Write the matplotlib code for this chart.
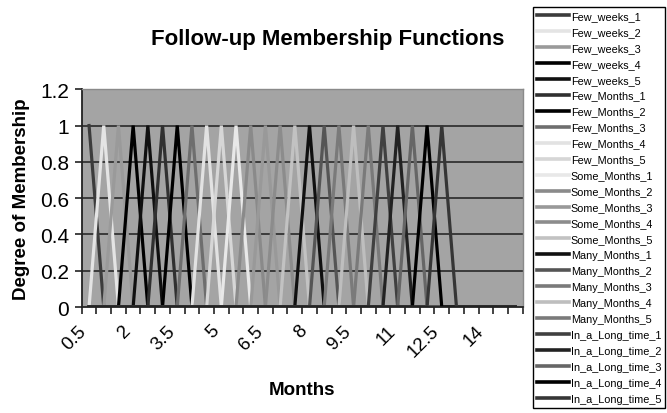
import matplotlib
matplotlib.use("Agg")
import matplotlib.pyplot as plt
import matplotlib.transforms as mtransforms

plt.rcParams['font.family'] = ['Liberation Sans', 'DejaVu Sans']

# month categories on the x axis
months = [0.5, 1.0, 1.5, 2.0, 2.5, 3.0, 3.5, 4.0, 4.5, 5.0,
          5.5, 6.0, 6.5, 7.0, 7.5, 8.0, 8.5, 9.0, 9.5, 10.0,
          10.5, 11.0, 11.5, 12.0, 12.5, 13.0, 13.5, 14.0, 14.5, 15.0]

series_names = ['Few_weeks_1', 'Few_weeks_2', 'Few_weeks_3', 'Few_weeks_4', 'Few_weeks_5',
                'Few_Months_1', 'Few_Months_2', 'Few_Months_3', 'Few_Months_4', 'Few_Months_5',
                'Some_Months_1', 'Some_Months_2', 'Some_Months_3', 'Some_Months_4', 'Some_Months_5',
                'Many_Months_1', 'Many_Months_2', 'Many_Months_3', 'Many_Months_4', 'Many_Months_5',
                'In_a_Long_time_1', 'In_a_Long_time_2', 'In_a_Long_time_3', 'In_a_Long_time_4',
                'In_a_Long_time_5']

# month at which each membership function reaches 1
peak_month = [0.5, 1.0, 1.5, 2.0, 2.5, 3.0, 3.5, 4.0, 4.5, 5.0,
              5.5, 6.0, 6.5, 7.0, 7.5, 8.0, 8.5, 9.0, 9.5, 10.0,
              10.5, 11.0, 11.5, 12.0, 12.5]

series_colors = ['#3c3c3c', '#e4e4e4', '#9a9a9a', '#000000', '#101010',
                 '#303030', '#000000', '#6e6e6e', '#e2e2e2', '#d6d6d6',
                 '#e8e8e8', '#8a8a8a', '#999999', '#8c8c8c', '#c2c2c2',
                 '#101010', '#555555', '#7a7a7a', '#bebebe', '#7a7a7a',
                 '#404040', '#222222', '#666666', '#000000', '#363636']

xlabels = ['0.5', '2', '3.5', '5', '6.5', '8', '9.5', '11', '12.5', '14']

# membership degree per month for every series
membership = [[1.0 if m == p else 0.0 for m in months] for p in peak_month]

fig = plt.figure(figsize=(6.67, 4.14), dpi=100)
ax = fig.add_axes([0.1225, 0.256, 0.661, 0.526])
ax.set_facecolor('#a4a4a4')

x = list(range(len(months)))
for name, vals, col in zip(series_names, membership, series_colors):
    ax.plot(x, vals, color=col, lw=2.3, label=name, solid_joinstyle='miter')

ax.set_xlim(-0.5, len(months) - 0.5)
ax.set_ylim(0, 1.2)
ax.set_yticks([0, 0.2, 0.4, 0.6, 0.8, 1.0, 1.2])
ax.set_yticklabels(['0', '0.2', '0.4', '0.6', '0.8', '1', '1.2'], fontsize=15)
for yv in [0.2, 0.4, 0.6, 0.8, 1.0]:
    ax.axhline(yv, color='#333333', lw=1.3, zorder=0.5)

# tick marks between categories, labels on every third category
ax.set_xticks([i - 0.5 for i in range(len(months) + 1)])
ax.set_xticklabels([])
ax.set_xticks([months.index(float(s)) for s in xlabels], minor=True)
ax.set_xticklabels(xlabels, minor=True, fontsize=13.5, rotation=45,
                   ha='right', va='center', rotation_mode='anchor')
ax.tick_params(axis='x', which='major', direction='out', length=5, width=1.2, color='#222222')
ax.tick_params(axis='x', which='minor', length=0, pad=15)
ax.tick_params(axis='y', direction='out', length=5, width=1.2, color='#222222', pad=4)
shift = mtransforms.ScaledTranslation(-5 / 100, 0, fig.dpi_scale_trans)
for lab in ax.get_xticklabels(minor=True):
    lab.set_transform(lab.get_transform() + shift)

for side in ['left', 'bottom']:
    ax.spines[side].set_color('#222222')
    ax.spines[side].set_linewidth(1.3)
for side in ['top', 'right']:
    ax.spines[side].set_color('#8a8a8a')
    ax.spines[side].set_linewidth(1.0)

ax.set_xlabel('Months', fontsize=13.5, fontweight='bold', labelpad=15)
ax.set_ylabel('Degree of Membership', fontsize=13.5, fontweight='bold', labelpad=7)
fig.text(0.492, 0.905, 'Follow-up Membership Functions', fontsize=16,
         fontweight='bold', ha='center', va='center')

leg = fig.legend(loc='upper left', bbox_to_anchor=(533 / 667, 1 - 8 / 414),
                 fontsize=7.8, frameon=True, fancybox=False, edgecolor='#000000',
                 framealpha=1, handlelength=3.0, handletextpad=0.15,
                 labelspacing=0.55, borderpad=0.35, borderaxespad=0)
leg.get_frame().set_linewidth(1.0)
for h in leg.get_lines():
    h.set_linewidth(2.6)

fig.savefig('out.png', dpi=100)
